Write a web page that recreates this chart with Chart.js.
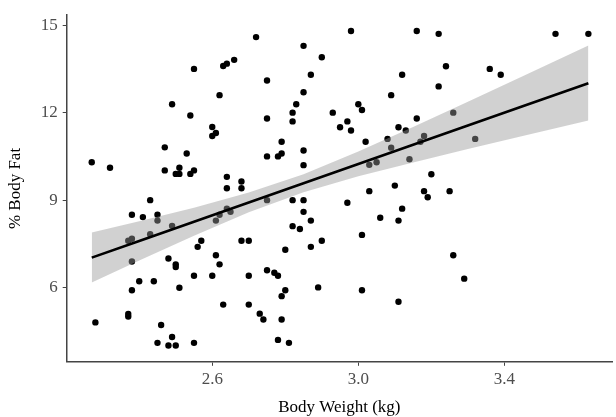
<!DOCTYPE html>
<html>
<head>
<meta charset="utf-8">
<title>Body Fat vs Body Weight</title>
<script src="https://cdn.jsdelivr.net/npm/chart.js@4.4.1/dist/chart.umd.min.js"></script>
<style>
  html, body { margin: 0; padding: 0; background: #ffffff; }
  #wrap { width: 616px; height: 417px; }
</style>
</head>
<body>
<div id="wrap"><canvas id="fatChart" width="616" height="417"></canvas></div>
<script>
const weights = [
  2.55, 2.49, 2.54, 2.47, 2.53, 2.27, 2.32, 2.47, 2.51, 2.50, 2.51, 2.54, 2.55,
  2.43, 2.38, 2.41, 2.45, 2.45, 2.49, 2.43, 2.37, 2.38, 2.38, 2.57, 2.56, 2.48,
  2.50, 2.50, 2.40, 2.44, 2.38, 2.55, 2.51, 2.37, 2.37, 2.28, 2.46, 2.49, 2.45,
  2.48, 2.50, 2.55,
  2.72, 2.85, 2.98, 2.90, 2.63, 2.64, 2.66, 2.75, 2.87, 2.62, 2.85, 2.83, 2.82,
  2.82, 2.75, 2.93, 3.00, 3.01, 2.97, 2.95, 2.98, 2.60, 2.61, 2.60, 2.79, 2.85,
  2.75, 2.78, 2.79, 2.85, 3.02, 2.64, 2.68,
  2.64, 2.68, 2.64, 2.62, 2.65, 2.61, 2.75, 2.82, 2.85, 2.85, 2.87, 2.82, 2.84,
  2.68, 2.70, 2.80, 2.87, 2.90, 2.97, 3.01, 2.61, 2.62, 2.60, 2.70, 2.75, 2.77,
  2.78, 2.80, 2.79, 2.89, 3.01, 2.63, 2.70, 2.73, 2.74, 2.79, 2.78, 2.81,
  3.16, 3.22, 3.54, 3.63, 3.24, 3.36, 3.39, 3.12, 3.22, 3.09, 3.16, 3.11, 3.13,
  3.26, 3.08, 3.09, 3.18, 3.17, 3.32, 3.14, 3.03, 3.05, 3.20,
  3.03, 3.10, 3.18, 3.19, 3.25, 3.12, 3.06, 3.11, 3.26, 3.29, 3.11
]
const bodyFat = [
  13.50, 12.29, 11.90, 10.81, 10.60, 10.30, 10.11, 10.02, 10.11, 9.90, 9.90, 9.90, 10.02,
  9.00, 8.50, 8.42, 8.50, 8.30, 8.12, 7.83, 7.61, 7.68, 6.90, 7.61, 7.40, 7.00,
  6.80, 6.71, 6.22, 6.22, 5.91, 6.41, 6.00, 5.10, 5.01, 4.81, 4.72, 4.31, 4.11,
  4.02, 4.02, 4.11,
  14.59, 14.29, 14.80, 13.90, 13.60, 13.68, 13.81, 13.10, 13.30, 12.60, 12.70, 12.29, 12.00,
  11.70, 11.80, 12.00, 12.29, 12.09, 11.70, 11.50, 11.39, 11.51, 11.30, 11.20, 11.00, 10.70,
  10.50, 10.50, 10.60, 10.20, 11.00, 9.80, 9.64,
  9.41, 9.41, 8.71, 8.50, 8.60, 8.30, 9.00, 9.00, 9.00, 8.60, 8.30, 8.11, 8.01,
  7.61, 7.61, 7.30, 7.40, 7.61, 8.91, 7.81, 7.11, 6.80, 6.41, 6.41, 6.60, 6.51,
  6.41, 5.91, 5.71, 6.01, 5.91, 5.42, 5.42, 5.11, 4.91, 4.91, 4.21, 4.11,
  14.80, 14.70, 14.70, 14.70, 13.59, 13.50, 13.30, 13.30, 12.90, 12.60, 11.80, 11.50, 11.39,
  12.00, 11.10, 10.80, 11.20, 11.00, 11.10, 10.40, 10.21, 10.30, 9.89,
  9.31, 9.50, 9.31, 9.10, 9.31, 8.71, 8.40, 8.30, 7.11, 6.31, 5.52
]

// fitted line and confidence band
const fitX = [2.27, 2.40, 2.55, 2.70, 2.85, 3.00, 3.15, 3.30, 3.45, 3.63]
const fitY = [7.03, 7.60, 8.26, 8.92, 9.58, 10.24, 10.90, 11.56, 12.22, 13.01]
const bandUpper = [7.89, 8.28, 8.74, 9.26, 9.89, 10.67, 11.51, 12.37, 13.25, 14.30]
const bandLower = [6.18, 6.93, 7.78, 8.59, 9.27, 9.82, 10.29, 10.75, 11.20, 11.73]

const xTicks = [2.6, 3.0, 3.4]
const yTicks = [6, 9, 12, 15]

const serif = "'Liberation Serif', 'Times New Roman', serif"
const toXY = (xs, ys) => xs.map((x, i) => ({ x: x, y: ys[i] }))

const ctx = document.getElementById('fatChart')

new Chart(ctx, {
  type: 'scatter',
  data: {
    datasets: [
      {
        label: 'points',
        data: toXY(weights, bodyFat),
        backgroundColor: '#000000',
        pointRadius: 3.2,
        pointBorderWidth: 0,
        order: 3
      },
      {
        label: 'upper',
        data: toXY(fitX, bandUpper),
        showLine: true,
        borderWidth: 0,
        pointRadius: 0,
        fill: '+1',
        backgroundColor: 'rgba(153,153,153,0.45)',
        order: 2
      },
      {
        label: 'lower',
        data: toXY(fitX, bandLower),
        showLine: true,
        borderWidth: 0,
        pointRadius: 0,
        fill: false,
        order: 2
      },
      {
        label: 'fit',
        data: toXY(fitX, fitY),
        showLine: true,
        borderColor: '#000000',
        borderWidth: 2.6,
        pointRadius: 0,
        order: 1
      }
    ]
  },
  options: {
    responsive: false,
    animation: false,
    layout: {
      padding: { top: 10.6, right: 0, bottom: 0, left: 0 }
    },
    plugins: {
      legend: { display: false },
      tooltip: { enabled: false }
    },
    scales: {
      x: {
        type: 'linear',
        min: 2.2014,
        max: 3.6947,
        afterBuildTicks: (scale) => { scale.ticks = xTicks.map(v => ({ value: v })) },
        afterFit: (scale) => { scale.height = 55.2 },
        grid: {
          drawOnChartArea: false,
          drawTicks: true,
          tickLength: 4,
          tickColor: '#444444',
          tickWidth: 1
        },
        border: { display: true, color: '#444444', width: 1.5 },
        ticks: {
          padding: 4,
          color: '#4d4d4d',
          font: { family: serif, size: 17 },
          callback: (v) => v.toFixed(1)
        },
        title: {
          display: true,
          text: 'Body Weight (kg)',
          color: '#000000',
          font: { family: serif, size: 17 },
          padding: { top: 0, bottom: -1 }
        }
      },
      y: {
        type: 'linear',
        min: 3.46,
        max: 15.34,
        afterBuildTicks: (scale) => { scale.ticks = yTicks.map(v => ({ value: v })) },
        afterFit: (scale) => { scale.width = 66.7 },
        grid: {
          drawOnChartArea: false,
          drawTicks: true,
          tickLength: 4,
          tickColor: '#444444',
          tickWidth: 1
        },
        border: { display: true, color: '#444444', width: 1.5 },
        ticks: {
          padding: 5,
          color: '#4d4d4d',
          font: { family: serif, size: 17 }
        },
        title: {
          display: true,
          text: '% Body Fat',
          color: '#000000',
          font: { family: serif, size: 17 },
          padding: { top: 5.5, bottom: 0 }
        }
      }
    }
  }
})
</script>
</body>
</html>
